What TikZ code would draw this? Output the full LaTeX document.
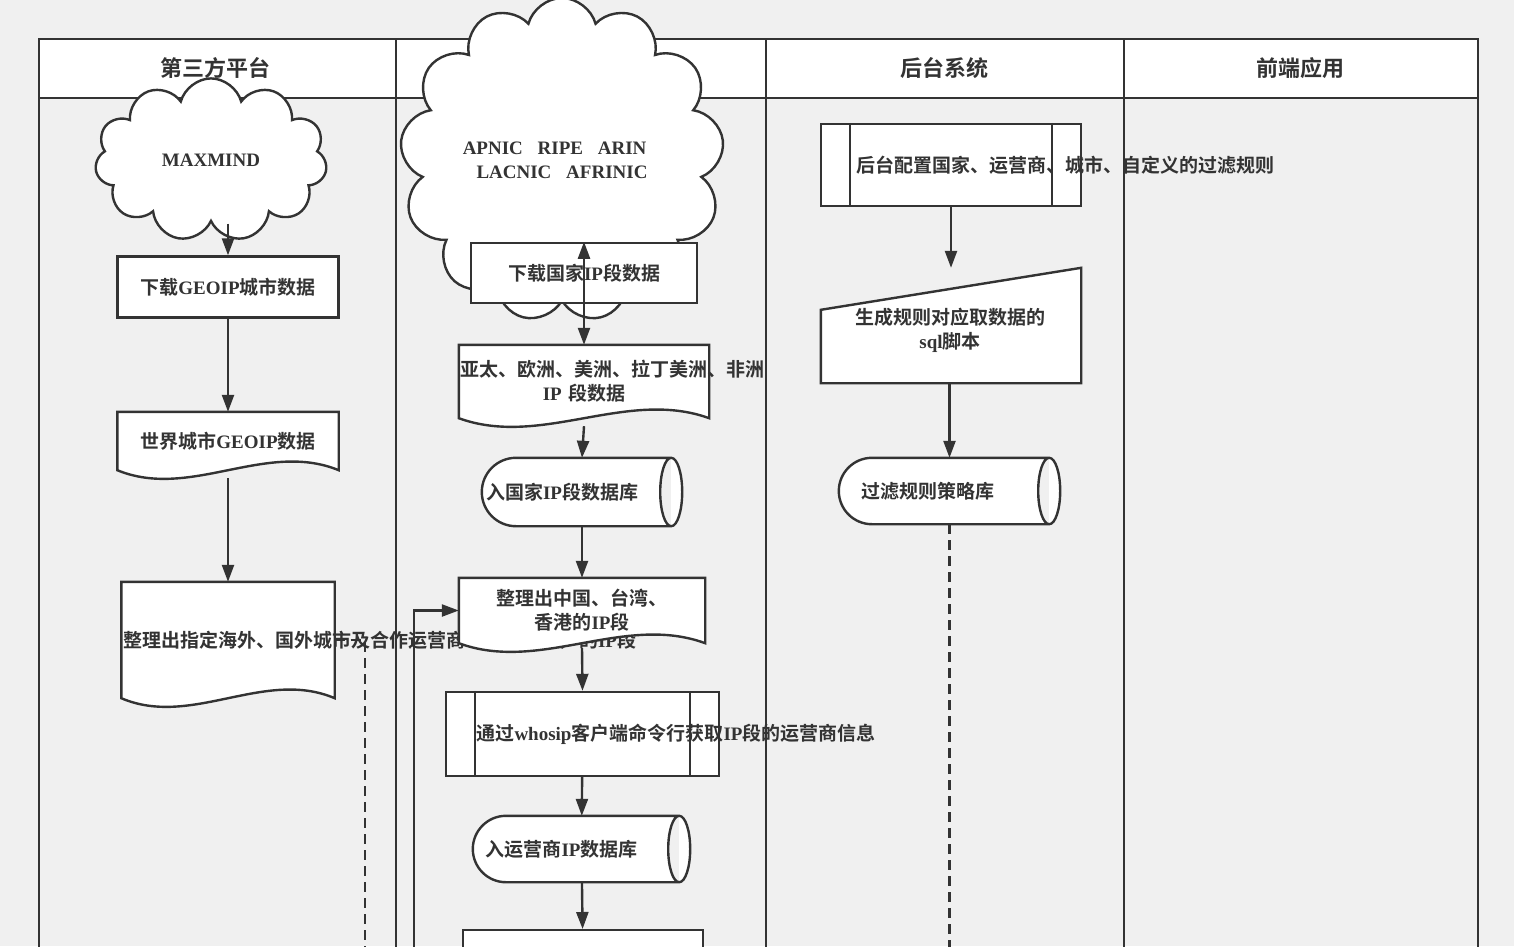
\documentclass[tikz,border=0pt]{standalone}
\usepackage{fontspec}
\setmainfont{Noto Sans CJK SC}[BoldFont={Noto Sans CJK SC Bold}]
\newfontfamily\lat{Liberation Serif}
\usetikzlibrary{positioning,shapes.symbols,arrows.meta,calc}
\definecolor{ink}{HTML}{333333}
\definecolor{bg}{HTML}{F0F0F0}
\newcommand\en[1]{{\lat\bfseries #1}}
\tikzset{
  stage/.style={inner sep=0pt, align=center, text=ink, font=\fontsize{19pt}{24pt}\selectfont\bfseries},
  box/.style={stage, draw=ink, line width=2.4pt, fill=white},
  ghost/.style={stage, draw=none},
  lane/.style={draw=ink, line width=1.2pt},
  link/.style={draw=ink, line width=2.4pt, -{Triangle[length=17pt,width=12pt]}},
  dashline/.style={draw=ink, line width=2.4pt, dash pattern=on 10pt off 6pt},
  lanehead/.style={text=ink, font=\fontsize{22pt}{26pt}\selectfont\bfseries}
}
% document shape around a ghost node
\newcommand\docpath[1]{\draw[draw=ink, line width=2.4pt, fill=white] (#1.north west) -- (#1.north east) -- (#1.south east)
  .. controls ($(#1.south east)!0.33!(#1.south west)+(0,30)$) and ($(#1.south east)!0.67!(#1.south west)+(0,-30)$) .. (#1.south west) -- cycle;}
% horizontal drum
\newcommand\drumpath[1]{\draw[draw=ink, line width=2.4pt, fill=white] let \p1=(#1.north), \p2=(#1.south), \n1={(\y1-\y2)/2} in
  ([xshift=\n1]#1.north west) -- ([xshift=-11pt]#1.north east)
  arc(90:-90:11pt and \n1) -- ([xshift=\n1]#1.south west) arc(270:90:\n1 and \n1) -- cycle
  ([xshift=-11pt]#1.north east) arc(90:270:11pt and \n1);}
\begin{document}
\begin{tikzpicture}[x=1pt,y=1pt]
\useasboundingbox[fill=bg] (0,0) rectangle (1514,-946);
% swimlanes
\fill[white] (39,-39) rectangle (1478,-98);
\draw[lane] (39,-980) -- (39,-39) -- (1478,-39) -- (1478,-980);
\draw[lane] (39,-98) -- (1478,-98);
\foreach \x in {396,766,1124} \draw[lane] (\x,-39) -- (\x,-980);
\node[lanehead] at (215,-68) {第三方平台};
\node[lanehead] at (580,-68) {第三方权威机构};
\node[lanehead] at (944,-68) {后台系统};
\node[lanehead] at (1300,-68) {前端应用};

% lane 1
\node[box, cloud, cloud puffs=11, minimum width=232pt, minimum height=72pt] (maxmind) at (211,-160) {\en{MAXMIND}};
\node[box, minimum width=221pt, minimum height=61pt] (dlcity) at (228,-287) {下载\en{GEOIP}城市数据};
\node[ghost, minimum width=221pt, minimum height=58pt] (world) at (228,-441) {};
\docpath{world}
\node[stage] at (world) {世界城市\en{GEOIP}数据};
\node[ghost, minimum width=213pt, minimum height=116pt] (sortout) at (228,-640) {};
\docpath{sortout}
\node[stage, text width=210pt] at (sortout) {整理出指定海外、国外城市及合作运营商（台湾远传）的\en{IP}段};

% lane 2
\node[box, cloud, cloud puffs=13, minimum width=280pt, minimum height=80pt] (rir) at (562,-160) {\en{APNIC、RIPE、ARIN、}\\\en{LACNIC、AFRINIC}};
\node[box, minimum width=226pt, minimum height=60pt] (dlnation) at (584,-273) {下载国家\en{IP}段数据};
\node[ghost, minimum width=250pt, minimum height=73pt] (areas) at (584,-381.5) {};
\docpath{areas}
\node[stage, text width=248pt] at (areas) {亚太、欧洲、美洲、拉丁美洲、非洲 \en{IP} 段数据};
\node[ghost, minimum width=200pt, minimum height=68pt] (natdb) at (582,-492) {};
\drumpath{natdb}
\node[stage, text width=160pt] at ([xshift=-20pt]natdb.center) {入国家\en{IP}段数据库};
\node[ghost, minimum width=246pt, minimum height=65pt] (cnseg) at (582,-610.5) {};
\docpath{cnseg}
\node[stage] at (cnseg) {整理出中国、台湾、\\香港的\en{IP}段};
\node[box, minimum width=273pt, minimum height=84pt] (whois) at (582.5,-734) {};
\draw[draw=ink, line width=2.4pt] ([xshift=30pt]whois.north west) -- ([xshift=30pt]whois.south west)
  ([xshift=-30pt]whois.north east) -- ([xshift=-30pt]whois.south east);
\node[stage, text width=212pt] at (whois) {通过\en{whosip}客户端命令行获取\en{IP}段的运营商信息};
\node[ghost, minimum width=217pt, minimum height=66pt] (ispdb) at (581.5,-849) {};
\drumpath{ispdb}
\node[stage] at ([xshift=-20pt]ispdb.center) {入运营商\en{IP}数据库};
\node[box, minimum width=240pt, minimum height=60pt, anchor=north] (next) at (583,-929) {};

% lane 3
\node[box, minimum width=260pt, minimum height=82pt] (config) at (951,-165) {};
\draw[draw=ink, line width=2.4pt] ([xshift=30pt]config.north west) -- ([xshift=30pt]config.south west)
  ([xshift=-30pt]config.north east) -- ([xshift=-30pt]config.south east);
\node[stage, text width=190pt] at (config) {后台配置国家、运营商、城市、自定义的过滤规则};
\node[ghost, minimum width=260pt, minimum height=115pt] (sqlgen) at (951,-325.5) {};
\draw[draw=ink, line width=2.4pt, fill=white] (sqlgen.south west) -- ([yshift=-42pt]sqlgen.north west) -- (sqlgen.north east) -- (sqlgen.south east) -- cycle;
\node[stage] at (950,-330) {生成规则对应取数据的\\\en{sql}脚本};
\node[ghost, minimum width=221pt, minimum height=66pt] (ruledb) at (949.5,-491) {};
\drumpath{ruledb}
\node[stage] at ([xshift=-22pt]ruledb.center) {过滤规则策略库};

% connectors
\draw[link] (dlcity.north |- maxmind.south) -- (dlcity.north);
\draw[link] (dlcity) -- (world);
\draw[link] ([yshift=-8pt]world.south) -- (sortout.north);
\draw[dashline] (sortout.east) -- ++(30,0) coordinate (d1) -- (d1 |- next.south);
\draw[link] (dlnation.north |- rir.south) -- (dlnation.north);
\draw[link] (dlnation) -- (areas);
\draw[link] ([yshift=-8pt]areas.south) -- (natdb.north);
\draw[link] (natdb) -- (cnseg);
\draw[link] ([yshift=-5pt]cnseg.south) -- (whois.north);
\draw[link] (whois) -- (ispdb);
\draw[link] (ispdb) -- (next);
\coordinate (loop) at (414,-960);
\draw[link] (loop) |- (cnseg.west);
\draw[link] (config) -- (sqlgen);
\draw[link] (sqlgen.south -| ruledb.north) -- (ruledb.north);
\draw[dashline] (ruledb.south) -- ++(0,-440);
\end{tikzpicture}
\end{document}
